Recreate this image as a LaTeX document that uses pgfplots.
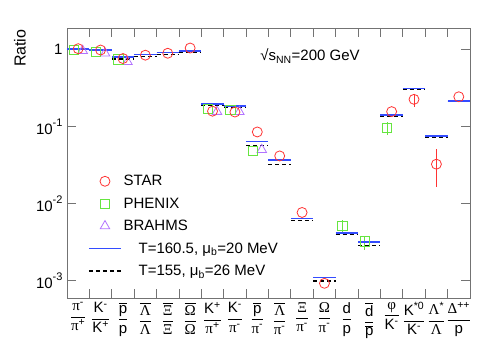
\documentclass[border=0pt]{standalone}
\usepackage{amsmath}
\usepackage{fontspec}
\setmainfont{Liberation Sans}
\newfontfamily\grk{Liberation Serif}
\usepackage{pgfplots}
\pgfplotsset{compat=1.18}

\definecolor{starred}{rgb}{1,0.2,0.2}
\definecolor{phxgreen}{rgb}{0.4,0.9,0.25}
\definecolor{brviolet}{rgb}{0.7,0.45,1}
\definecolor{modblue}{rgb}{0.2,0.3,1}
\definecolor{frame}{rgb}{0.45,0.45,0.45}

\newcommand{\bigf}{\fontsize{15}{18}\selectfont}
\newcommand{\su}[1]{\textsuperscript{#1}}
\newcommand{\ob}[1]{$\overline{\mbox{#1}}$}
\newcommand{\rat}[2]{$\genfrac{}{}{0.6pt}{0}{\mbox{#1}}{\mbox{#2}}$}

\begin{document}
\begin{tikzpicture}
\useasboundingbox (-67pt,-61pt) rectangle (424pt,298pt);
\begin{axis}[
    scale only axis,
    width=403pt, height=270pt,
    ymode=log,
    xmin=0, xmax=18,
    ymin=6e-4, ymax=1.89,
    clip=false,
    unbounded coords=jump,
    axis line style={frame, line width=0.8pt},
    every tick/.style={frame, line width=0.8pt},
    major tick length=9pt,
    minor tick length=5pt,
    xtick={0,...,17},
    xticklabel style={font=\fontsize{15}{17}\selectfont, xshift=11.2pt, yshift=-1pt},
    xticklabels={
      {\rat{{\grk π}\su{-}}{{\grk π}\su{+}}},
      {\rat{K\su{-}}{K\su{+}}},
      {\rat{\ob{p}}{p}},
      {\rat{\ob{\grk Λ}}{\grk Λ}},
      {\rat{\ob{\grk Ξ}}{\grk Ξ}},
      {\rat{\ob{\grk Ω}}{\grk Ω}},
      {\rat{K\su{+}}{{\grk π}\su{+}}},
      {\rat{K\su{-}}{{\grk π}\su{-}}},
      {\rat{\ob{p}}{{\grk π}\su{-}}},
      {\rat{\ob{\grk Λ}}{{\grk π}\su{-}}},
      {\rat{\grk Ξ}{{\grk π}\su{-}}},
      {\rat{\grk Ω}{{\grk π}\su{-}}},
      {\rat{d}{p}},
      {\rat{\ob{d}}{\ob{p}}},
      {\rat{\grk φ}{K\su{-}}},
      {\rat{K\su{*0}}{K\su{-}}},
      {\rat{{\grk Λ}\su{*}}{\grk Λ}},
      {\rat{{\grk Δ}\su{++}}{p}}
    },
    ytick={1,0.1,0.01,0.001},
    yticklabels={
      {1\hspace{11pt}},
      {10\raisebox{8pt}{\fontsize{11}{11}\selectfont -1}},
      {10\raisebox{8pt}{\fontsize{11}{11}\selectfont -2}},
      {10\raisebox{8pt}{\fontsize{11}{11}\selectfont -3}}
    },
    yticklabel style={font=\bigf, xshift=-1pt},
    ylabel={Ratio},
    ylabel style={font=\fontsize{16}{18}\selectfont, at={(rel axis cs:-0.1166,0.925)}, anchor=center},
    legend style={
        draw=none, fill=none, font=\bigf,
        at={(rel axis cs:0.045,0.47)}, anchor=north west,
        row sep=6.5pt,
    },
    legend cell align=left,
    legend image code/.code={
        \draw[mark repeat=2, mark phase=2, #1]
            plot coordinates {(0pt,0pt) (16pt,0pt) (32pt,0pt)};
    },
]

\addlegendimage{only marks, mark=o, mark size=5pt, starred, line width=0.8pt}
\addlegendentry{STAR}
\addlegendimage{only marks, mark=square, mark size=4.6pt, phxgreen, line width=0.8pt}
\addlegendentry{PHENIX}
\addlegendimage{only marks, mark=triangle, mark size=5.5pt, brviolet, line width=0.8pt}
\addlegendentry{BRAHMS}
\addlegendimage{draw=modblue, line width=1.3pt}
\addlegendentry{\hspace{15pt}T=160.5, μ\textsubscript{b}=20 MeV}
\addlegendimage{draw=black, line width=1.1pt, dash pattern=on 4pt off 3pt}
\addlegendentry{\hspace{15pt}T=155, μ\textsubscript{b}=26 MeV}

% BRAHMS
\addplot[forget plot, only marks, mark=triangle, mark size=5.5pt, brviolet,
    line width=0.8pt] coordinates {
    (0.7,0.96) (1.7,0.89) (2.7,0.69) (6.7,0.156) (7.7,0.155) (8.7,0.05)
};

% PHENIX
\addplot[forget plot, only marks, mark=square, mark size=4.6pt, phxgreen,
    line width=0.8pt,
    error bars/.cd, y dir=both, y explicit, error mark=none,
    error bar style={phxgreen, line width=0.8pt}] coordinates {
    (0.3,0.98) +- (0,0)
    (1.3,0.93) +- (0,0)
    (2.3,0.74) +- (0,0)
    (6.3,0.17) +- (0,0)
    (7.3,0.164) +- (0,0)
    (8.3,0.048) +- (0,0)
    (12.3,0.00514) += (0,0.0010) -= (0,0.0009)
    (13.3,0.00325) += (0,0.00045) -= (0,0.00075)
    (14.3,0.096) += (0,0.019) -= (0,0.019)
};

% STAR
\addplot[forget plot, only marks, mark=o, mark size=5pt, starred,
    line width=0.8pt,
    error bars/.cd, y dir=both, y explicit, error mark=none,
    error bar style={starred, line width=0.8pt}] coordinates {
    (0.5,1.02) +- (0,0.04)
    (1.5,0.98) +- (0,0.04)
    (2.5,0.76) +- (0,0.08)
    (3.5,0.84) +- (0,0)
    (4.5,0.89) +- (0,0)
    (5.5,1.04) +- (0,0)
    (6.5,0.158) +- (0,0)
    (7.5,0.154) +- (0,0)
    (8.5,0.085) +- (0,0)
    (9.5,0.0416) +- (0,0)
    (10.5,0.0077) +- (0,0)
    (11.5,0.00093) +- (0,0)
    (14.5,0.156) +- (0,0)
    (15.5,0.225) += (0,0.042) -= (0,0.048)
    (16.5,0.0325) += (0,0.0183) -= (0,0.0161)
    (17.5,0.243) +- (0,0)
};

% model T=155, mu_b=26 MeV
\addplot[forget plot, black, line width=1.3pt, dash pattern=on 4pt off 3pt] coordinates {
    (0,0.99) (1,0.99) (1,nan)
    (1,0.96) (2,0.96) (2,nan)
    (2,0.75) (3,0.75) (3,nan)
    (3,0.80) (4,0.80) (4,nan)
    (4,0.86) (5,0.86) (5,nan)
    (5,0.91) (6,0.91) (6,nan)
    (6,0.188) (7,0.188) (7,nan)
    (7,0.179) (8,0.179) (8,nan)
    (8,0.057) (9,0.057) (9,nan)
    (9,0.0323) (10,0.0323) (10,nan)
    (10,0.0060) (11,0.0060) (11,nan)
    (11,0.00100) (12,0.00100) (12,nan)
    (12,0.0040) (13,0.0040) (13,nan)
    (13,0.0029) (14,0.0029) (14,nan)
    (14,0.136) (15,0.136) (15,nan)
    (15,0.303) (16,0.303) (16,nan)
    (16,0.0725) (17,0.0725) (17,nan)
    (17,0.210) (18,0.210)
};

% model T=160.5, mu_b=20 MeV
\addplot[forget plot, modblue, line width=1.7pt] coordinates {
    (0,1.00) (1,1.00) (1,nan)
    (1,0.98) (2,0.98) (2,nan)
    (2,0.80) (3,0.80) (3,nan)
    (3,0.86) (4,0.86) (4,nan)
    (4,0.91) (5,0.91) (5,nan)
    (5,0.96) (6,0.96) (6,nan)
    (6,0.194) (7,0.194) (7,nan)
    (7,0.184) (8,0.184) (8,nan)
    (8,0.064) (9,0.064) (9,nan)
    (9,0.0367) (10,0.0367) (10,nan)
    (10,0.00644) (11,0.00644) (11,nan)
    (11,0.00111) (12,0.00111) (12,nan)
    (12,0.0042) (13,0.0042) (13,nan)
    (13,0.00321) (14,0.00321) (14,nan)
    (14,0.140) (15,0.140) (15,nan)
    (15,0.312) (16,0.312) (16,nan)
    (16,0.0746) (17,0.0746) (17,nan)
    (17,0.216) (18,0.216)
};

\node[font=\bigf, anchor=west] at (rel axis cs:0.471,0.896)
    {√s\textsubscript{NN}=200 GeV};

\end{axis}
\end{tikzpicture}
\end{document}
